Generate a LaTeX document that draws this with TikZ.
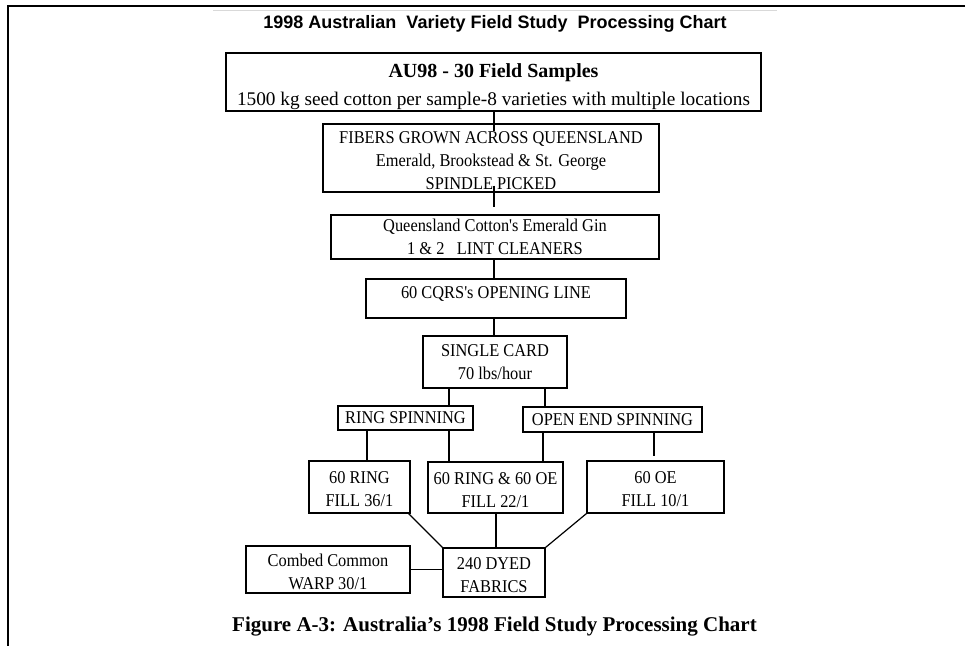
\documentclass[tikz,border=0pt]{standalone}
\usepackage{fontspec}
\setmainfont{Liberation Serif}[FakeStretch=0.91, Ligatures=TeXOff]
\newfontfamily\wideserif{Liberation Serif}
\newfontfamily\titlesans{Liberation Sans}
\newcommand\boxfont{\fontsize{18pt}{23pt}\selectfont}
% shift a line of box text vertically without changing its box size
\newcommand\shiftline[2]{\raisebox{#1}[\height][\depth]{#2}}
\newcommand\dn[1]{\shiftline{-2.5pt}{#1}}
\begin{document}
\begin{tikzpicture}[x=1pt,y=-1pt,
  box/.style={draw, line width=1.2pt, inner sep=0pt, align=center, font=\boxfont},
  link/.style={line width=1.2pt},
  frame/.style={line width=2pt}]
\useasboundingbox (0,0) rectangle (966,646);

% page frame and the top edge of the chart image
\draw[frame] (965,6) -- (7.5,6) -- (7.5,646);
\draw[gray!30, line width=1pt] (213,10) -- (777,10);

% heading and caption
\node[anchor=base, inner sep=0pt, font=\titlesans\bfseries\fontsize{18pt}{20pt}\selectfont] (title) at (495,28)
  {1998 Australian\ \ Variety Field Study\ \ Processing Chart};
\node[anchor=base, inner sep=0pt, font=\wideserif\bfseries\fontsize{21pt}{24pt}\selectfont] (caption) at (494.5,631)
  {Figure A-3: Australia’s 1998 Field Study Processing Chart};

% processing steps
\node[box, minimum width=535pt, minimum height=58pt, font=\wideserif\fontsize{19.3pt}{28pt}\selectfont] (b1) at (493.5,82)
  {\shiftline{-4.5pt}{\fontsize{20pt}{28pt}\selectfont\bfseries AU98 - 30 Field Samples}\\
   \shiftline{-4.5pt}{1500 kg seed cotton per sample-8 varieties with multiple locations}};
\node[box, minimum width=336pt, minimum height=68pt] (b2) at (491,158)
  {\dn{FIBERS GROWN ACROSS QUEENSLAND}\\ \dn{Emerald, Brookstead \& St. George}\\ \dn{SPINDLE PICKED}};
\node[box, minimum width=328pt, minimum height=44pt] (b3) at (495,237)
  {Queensland Cotton's Emerald Gin\\ 1 \& 2\ \ \ LINT CLEANERS};
\node[box, minimum width=260pt, minimum height=39pt] (b4) at (496,298.5)
  {\shiftline{5pt}{60 CQRS's OPENING LINE}};
\node[box, minimum width=144pt, minimum height=52pt] (b5) at (495,362)
  {SINGLE CARD\\ 70 lbs/hour};
\node[box, minimum width=135pt, minimum height=24pt] (ring) at (405.5,418)
  {RING SPINNING};
\node[box, minimum width=179pt, minimum height=25pt] (oe) at (612.5,419.5)
  {OPEN END SPINNING};
\node[box, minimum width=101pt, minimum height=52pt] (ya) at (359.5,487)
  {\dn{60 RING}\\ \dn{FILL 36/1}};
\node[box, minimum width=135pt, minimum height=51pt] (yb) at (495.5,487.5)
  {\dn{60 RING \& 60 OE}\\ \dn{FILL 22/1}};
\node[box, minimum width=137pt, minimum height=52pt] (yc) at (655.5,487)
  {\dn{60 OE}\\ \dn{FILL 10/1}};
\node[box, minimum width=102pt, minimum height=49pt] (fab) at (494,572.5)
  {\dn{240 DYED}\\ \dn{FABRICS}};
\node[box, minimum width=164pt, minimum height=47pt] (warp) at (328,569.5)
  {\dn{Combed Common}\\ \dn{WARP 30/1}};

% vertical guide lines for the connectors
\coordinate (spine) at (494,0);
\coordinate (xr) at (449,0);
\coordinate (xo) at (545,0);
\coordinate (xa) at (367,0);
\coordinate (xbo) at (543,0);
\coordinate (xc) at (654,0);
\coordinate (xd) at (496,0);

% connectors
\draw[link, shorten >=-8pt] (b1.south -| spine) -- (b2.north -| spine);
\draw[link, shorten <=-7pt, shorten >=7pt] (b2.south -| spine) -- (b3.north -| spine);
\draw[link] (b3.south -| spine) -- (b4.north -| spine);
\draw[link] (b4.south -| spine) -- (b5.north -| spine);
\draw[link] (b5.south -| xr) -- (ring.north -| xr);
\draw[link] (b5.south -| xo) -- (oe.north -| xo);
\draw[link] (ring.south -| xa) -- (ya.north -| xa);
\draw[link] (ring.south -| xr) -- (yb.north -| xr);
\draw[link] (oe.south -| xbo) -- (yb.north -| xbo);
\draw[link, shorten >=4pt] (oe.south -| xc) -- (yc.north -| xc);
\draw[link] ([xshift=-2pt]ya.south east) -- (fab.north west);
\draw[link] (yb.south -| xd) -- (fab.north -| xd);
\draw[link] (yc.south west) -- (fab.north east);
\draw[link] (warp.east) -- (warp.east -| fab.west);
\end{tikzpicture}
\end{document}
